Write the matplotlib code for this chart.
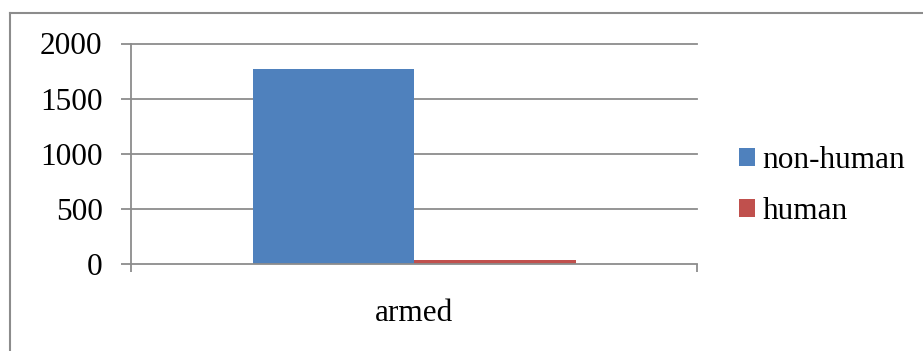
import matplotlib
matplotlib.use("Agg")
import matplotlib.pyplot as plt
from matplotlib.lines import Line2D
from matplotlib.patches import Patch

categories = ["armed"]
series_names = ["non-human", "human"]
non_human = [1770]
human = [38]
colors = ["#4F81BD", "#C0504D"]
yticks = [0, 500, 1000, 1500, 2000]

W, H = 923, 351
fig = plt.figure(figsize=(W / 100, H / 100), dpi=100)
plt.rcParams['font.family'] = ['Liberation Serif', 'DejaVu Serif']
FS = 22.5

def fx(px):
    return px / W

def fy(py):
    return 1 - py / H

ax = fig.add_axes([fx(131), fy(264.3), fx(697) - fx(131), fy(43.5) - fy(264.3)])

bw = 161.5 / 566
x = list(range(len(categories)))
ax.bar([i - bw / 2 for i in x], non_human, width=bw, color=colors[0], zorder=3)
ax.bar([i + bw / 2 for i in x], human, width=bw, color=colors[1], zorder=3)

ax.set_xlim(-0.5, len(categories) - 0.5)
ax.set_ylim(0, 2000)
gcol = "#8c8c8c"
for t in yticks[1:]:
    ax.axhline(t, color=gcol, lw=1.3, zorder=1, clip_on=False)

ax.set_yticks(yticks)
ax.set_yticklabels([str(t) for t in yticks], fontsize=FS)
ax.tick_params(axis='y', length=7.5, width=1.3, color=gcol, pad=13)
ax.set_xticks([-0.5, 0.5])
ax.set_xticklabels(["", ""])
ax.tick_params(axis='x', length=6, width=1.3, color=gcol)
for i, c in enumerate(categories):
    ax.text(i, -0.225, c, transform=ax.get_xaxis_transform(), ha='center', va='center', fontsize=FS)

for s in ['top', 'right']:
    ax.spines[s].set_visible(False)
for s in ['left', 'bottom']:
    ax.spines[s].set_color(gcol)
    ax.spines[s].set_linewidth(1.3)
    ax.spines[s].set_zorder(4)

handles = [Patch(facecolor=colors[0]), Patch(facecolor=colors[1])]
fig.legend(handles, series_names, loc='center left', bbox_to_anchor=(fx(739), fy(186)),
           frameon=False, fontsize=FS, handlelength=0.52, handleheight=0.52,
           handletextpad=0.23, labelspacing=0.72, borderpad=0, borderaxespad=0)

fig.add_artist(Line2D([fx(10), fx(10)], [fy(13), 0], color="#8c8c8c", lw=1.5, transform=fig.transFigure))
fig.add_artist(Line2D([fx(10), 1], [fy(13), fy(13)], color="#8c8c8c", lw=1.5, transform=fig.transFigure))

fig.savefig("out.png", dpi=100)
